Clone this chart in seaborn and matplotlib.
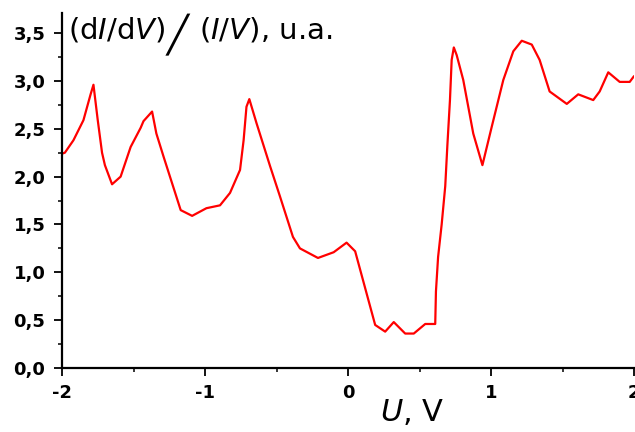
import numpy as np
import pandas as pd
import matplotlib
matplotlib.use("Agg")
import matplotlib.pyplot as plt
import seaborn as sns
from matplotlib.ticker import MultipleLocator, FuncFormatter

# Data
voltage = [-2.00, -1.98, -1.92, -1.85, -1.80, -1.78, -1.75, -1.72, -1.70, -1.65, -1.59,
           -1.52, -1.45, -1.43, -1.37, -1.34, -1.29, -1.17, -1.09, -0.99, -0.895,
           -0.825, -0.755, -0.73, -0.71, -0.69, -0.64, -0.545, -0.475, -0.385, -0.336,
           -0.21, -0.10, -0.01, 0.05, 0.11, 0.19, 0.26, 0.32, 0.40, 0.46, 0.54, 0.61,
           0.615, 0.63, 0.655, 0.68, 0.695, 0.713, 0.725, 0.74, 0.76, 0.806, 0.876,
           0.94, 1.005, 1.086, 1.156, 1.215, 1.285, 1.34, 1.41, 1.53, 1.61, 1.715,
           1.76, 1.82, 1.90, 1.97, 2.00]
conductance = [2.24, 2.25, 2.38, 2.59, 2.86, 2.96, 2.59, 2.25, 2.12, 1.92, 2.00,
               2.31, 2.51, 2.58, 2.68, 2.45, 2.21, 1.65, 1.59, 1.67, 1.70,
               1.83, 2.07, 2.38, 2.73, 2.81, 2.56, 2.11, 1.79, 1.37, 1.25,
               1.15, 1.21, 1.31, 1.22, 0.89, 0.45, 0.38, 0.48, 0.36, 0.36, 0.46, 0.46,
               0.80, 1.16, 1.50, 1.90, 2.33, 2.80, 3.22, 3.35, 3.27, 3.01, 2.45,
               2.12, 2.52, 3.01, 3.31, 3.42, 3.38, 3.22, 2.89, 2.76, 2.86, 2.80,
               2.89, 3.09, 2.99, 2.99, 3.05]
x_ticks = [-2, -1, 0, 1, 2]
y_ticks = [0.0, 0.5, 1.0, 1.5, 2.0, 2.5, 3.0, 3.5]

df = pd.DataFrame({"U": voltage, "G": conductance})

sns.set_style("ticks")
plt.rcParams["font.family"] = ["DejaVu Sans"]
plt.rcParams["text.color"] = "black"
plt.rcParams["axes.labelcolor"] = "black"
plt.rcParams["xtick.color"] = "black"
plt.rcParams["ytick.color"] = "black"
plt.rcParams["mathtext.fontset"] = "custom"
plt.rcParams["mathtext.it"] = "DejaVu Sans:italic"
plt.rcParams["mathtext.rm"] = "DejaVu Sans"

fig = plt.figure(figsize=(6.35, 4.32), dpi=100)
ax = fig.add_axes([62 / 635, 64 / 432, (634 - 62) / 635, (368 - 13) / 432])

sns.lineplot(data=df, x="U", y="G", ax=ax, color="#ff0000", linewidth=1.6,
             estimator=None, sort=False)

ax.set_xlim(-2, 2)
ax.set_ylim(0, 3.71)
ax.set_xticks(x_ticks)
ax.set_yticks(y_ticks)
ax.xaxis.set_minor_locator(MultipleLocator(0.5))
ax.yaxis.set_minor_locator(MultipleLocator(0.25))
ax.yaxis.set_major_formatter(FuncFormatter(lambda v, p: f"{v:.1f}".replace(".", ",")))
ax.xaxis.set_major_formatter(FuncFormatter(lambda v, p: f"{v:.0f}"))

for lab in ax.get_xticklabels() + ax.get_yticklabels():
    lab.set_fontweight("bold")
    lab.set_fontsize(13)
    lab.set_color("black")

ax.tick_params(axis="both", which="major", direction="out", length=5.5, width=1.3,
               colors="black")
ax.tick_params(axis="y", which="major", pad=6.5)
ax.tick_params(axis="x", which="major", pad=6)
ax.tick_params(axis="both", which="minor", direction="out", length=3, width=1.1,
               color="black")

for side in ["top", "right"]:
    ax.spines[side].set_visible(False)
for side in ["left", "bottom"]:
    ax.spines[side].set_linewidth(1.6)
    ax.spines[side].set_color("black")

ax.set_xlabel(r"$\mathit{U}$, V", fontsize=22, labelpad=0, color="black")
ax.xaxis.set_label_coords(0.612, -0.082)
ax.set_ylabel("")

t1 = ax.text(0.01, 0.992, r"(d$\mathit{I}$/d$\mathit{V}$)",
             transform=ax.transAxes, ha="left", va="top", fontsize=21, color="black")
t2 = ax.annotate("\u2571", xy=(1, 0), xycoords=t1, xytext=(1, -8), textcoords="offset points",
                 ha="left", va="bottom", fontsize=26, color="black")
t3 = ax.annotate(r"($\mathit{I}$/$\mathit{V}$), u.a.", xy=(1, 0), xycoords=t1,
                 xytext=(24, 0), textcoords="offset points",
                 ha="left", va="bottom", fontsize=21, color="black")

fig.savefig("out.png", dpi=100)
